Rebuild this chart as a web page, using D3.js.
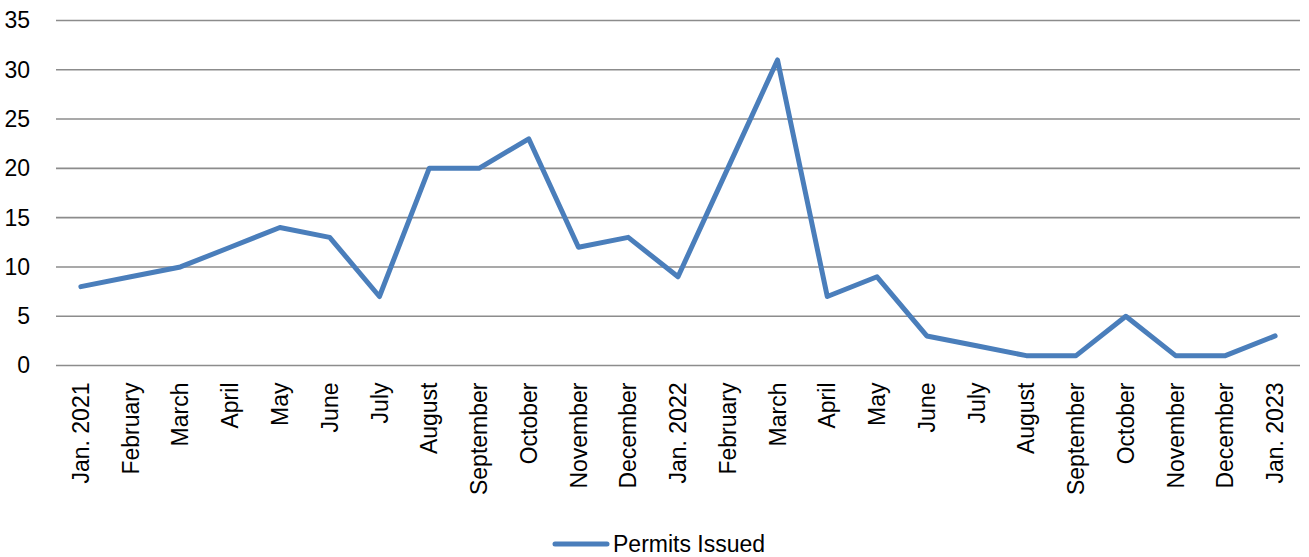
<!DOCTYPE html>
<html>
<head>
<meta charset="utf-8">
<script src="https://cdn.jsdelivr.net/npm/d3@7"></script>
<style>
  body { margin: 0; background: #fff; }
  text { font-family: "Liberation Sans", Arial, sans-serif; fill: #000; }
</style>
</head>
<body>
<script>
const meses = ["Jan. 2021", "February", "March", "April", "May", "June", "July",
               "August", "September", "October", "November", "December",
               "Jan. 2022", "February", "March", "April", "May", "June", "July",
               "August", "September", "October", "November", "December", "Jan. 2023"];
const permisos = [8, 9, 10, 12, 14, 13, 7, 20, 20, 23, 12, 13, 9, 20, 31, 7, 9, 3, 2, 1, 1, 5, 1, 1, 3];
const yTicks = [0, 5, 10, 15, 20, 25, 30, 35];
const serieNome = "Permits Issued";

const largura = 1309;
const altura = 557;
const margens = { c: 20.5, d: 9, b: 191.5, e: 56 };
const dim = { l: largura - margens.e - margens.d, a: altura - margens.c - margens.b };

var svg = d3.select("body")
            .append("svg")
            .attr("width", largura)
            .attr("height", altura);

var grafico = svg.append("g")
                 .attr("transform", "translate(" + margens.e + ", " + margens.c + ")");

// keys are indices because month names repeat
var xEscala = d3.scaleBand()
                .domain(d3.range(meses.length))
                .range([0, dim.l]);

var yEscala = d3.scaleLinear()
                .domain([0, 35])
                .range([dim.a, 0]);

// gridlines
grafico.append("g")
       .selectAll("line")
       .data(yTicks)
       .enter()
       .append("line")
       .attr("x1", 0)
       .attr("x2", dim.l)
       .attr("y1", function(d) { return yEscala(d); })
       .attr("y2", function(d) { return yEscala(d); })
       .attr("stroke", "#8c8c8c")
       .attr("stroke-width", 1.6);

var yEixo = d3.axisLeft(yEscala)
              .tickValues(yTicks)
              .tickSize(0)
              .tickPadding(26);

var gy = grafico.append("g").call(yEixo);
gy.select(".domain").remove();
gy.selectAll("text")
  .attr("font-size", "23px")
  .attr("font-family", "Liberation Sans, Arial, sans-serif");

var xEixo = d3.axisBottom(xEscala)
              .tickSize(0)
              .tickFormat(function(i) { return meses[i]; });

var gx = grafico.append("g")
                .attr("transform", "translate(0, " + dim.a + ")")
                .call(xEixo);
gx.select(".domain").remove();
gx.selectAll("text")
  .attr("font-size", "23px")
  .attr("font-family", "Liberation Sans, Arial, sans-serif")
  .attr("text-anchor", "end")
  .attr("transform", "rotate(-90)")
  .attr("x", -17)
  .attr("y", 0)
  .attr("dy", "0.35em");

var linha = d3.line()
              .x(function(d, i) { return xEscala(i) + xEscala.bandwidth() / 2; })
              .y(function(d) { return yEscala(d); });

grafico.append("path")
       .datum(permisos)
       .attr("fill", "none")
       .attr("stroke", "#4a7ebb")
       .attr("stroke-width", 5)
       .attr("stroke-linejoin", "round")
       .attr("stroke-linecap", "round")
       .attr("d", linha);

// legenda
var legenda = svg.append("g")
                 .attr("transform", "translate(555, 544)");

legenda.append("line")
       .attr("x1", 0)
       .attr("x2", 52)
       .attr("stroke", "#4a7ebb")
       .attr("stroke-width", 5)
       .attr("stroke-linecap", "round");

legenda.append("text")
       .attr("x", 58)
       .attr("dy", "0.35em")
       .attr("font-size", "23px")
       .text(serieNome);
</script>
</body>
</html>
